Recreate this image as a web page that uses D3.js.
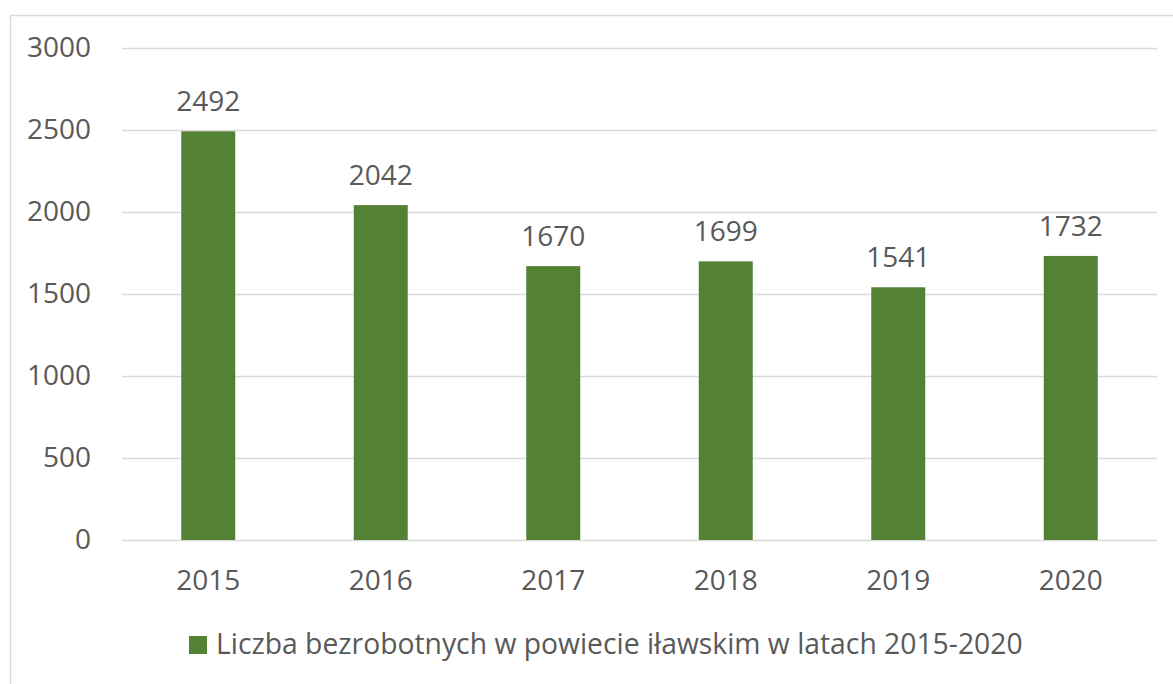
<!DOCTYPE html>
<html>
<head>
<meta charset="utf-8">
<script src="https://cdn.jsdelivr.net/npm/d3@7"></script>
<style>
  body { margin: 0; background: #fff; }
  text { font-family: "Open Sans", sans-serif; fill: #595959; }
</style>
</head>
<body>
<div id="chart-area"></div>
<script>
var years = ["2015", "2016", "2017", "2018", "2019", "2020"];
var unemployed = [2492, 2042, 1670, 1699, 1541, 1732];
var yTicks = [0, 500, 1000, 1500, 2000, 2500, 3000];
var legendLabel = "Liczba bezrobotnych w powiecie iławskim w latach 2015-2020";

var data = years.map(function(y, i) { return {year: y, value: unemployed[i]}; });

var margin = {left: 122, right: 16, top: 48, bottom: 144};
var width = 1173 - margin.left - margin.right,
    height = 684 - margin.top - margin.bottom;

var svg = d3.select("#chart-area")
  .append("svg")
    .attr("width", 1173)
    .attr("height", 684);

// chart area border
svg.append("rect")
  .attr("x", 10.5)
  .attr("y", 15.5)
  .attr("width", 1200)
  .attr("height", 700)
  .attr("fill", "none")
  .attr("stroke", "#d9d9d9")
  .attr("stroke-width", 1.5);

var g = svg.append("g")
  .attr("transform", "translate(" + margin.left + "," + margin.top + ")");

var x = d3.scaleBand()
  .domain(years)
  .range([0, width])
  .paddingInner(0.687)
  .paddingOuter(0.3435);

var y = d3.scaleLinear()
  .domain([0, 3000])
  .range([height, 0]);

// gridlines
var yAxisCall = d3.axisLeft(y)
  .tickValues(yTicks)
  .tickFormat(d3.format("d"))
  .tickSize(-width)
  .tickPadding(31);

var yAxis = g.append("g")
  .attr("class", "y-axis")
  .call(yAxisCall);
yAxis.select(".domain").remove();
yAxis.selectAll("line")
  .attr("stroke", "#d9d9d9")
  .attr("stroke-width", 1.5);
yAxis.selectAll("text")
  .style("font-size", "28px")
  .attr("fill", "#595959");

var xAxisCall = d3.axisBottom(x).tickSize(0).tickPadding(30);
var xAxis = g.append("g")
  .attr("class", "x-axis")
  .attr("transform", "translate(0," + height + ")")
  .call(xAxisCall);
xAxis.select(".domain").remove();
xAxis.selectAll("text")
  .style("font-size", "28px")
  .attr("fill", "#595959");

g.selectAll("rect.bar")
  .data(data)
  .enter()
  .append("rect")
    .attr("class", "bar")
    .attr("x", function(d) { return x(d.year); })
    .attr("y", function(d) { return y(d.value); })
    .attr("width", x.bandwidth())
    .attr("height", function(d) { return height - y(d.value); })
    .attr("fill", "#548235");

g.selectAll("text.label")
  .data(data)
  .enter()
  .append("text")
    .attr("class", "label")
    .attr("x", function(d) { return x(d.year) + x.bandwidth() / 2; })
    .attr("y", function(d) { return y(d.value) - 20; })
    .attr("text-anchor", "middle")
    .style("font-size", "28px")
    .text(function(d) { return d.value; });

// legend
var legend = svg.append("g").attr("transform", "translate(189,636)");
legend.append("rect")
  .attr("width", 18)
  .attr("height", 18)
  .attr("fill", "#548235");
legend.append("text")
  .attr("x", 27)
  .attr("y", 18)
  .style("font-size", "28.3px")
  .text(legendLabel);
</script>
</body>
</html>
